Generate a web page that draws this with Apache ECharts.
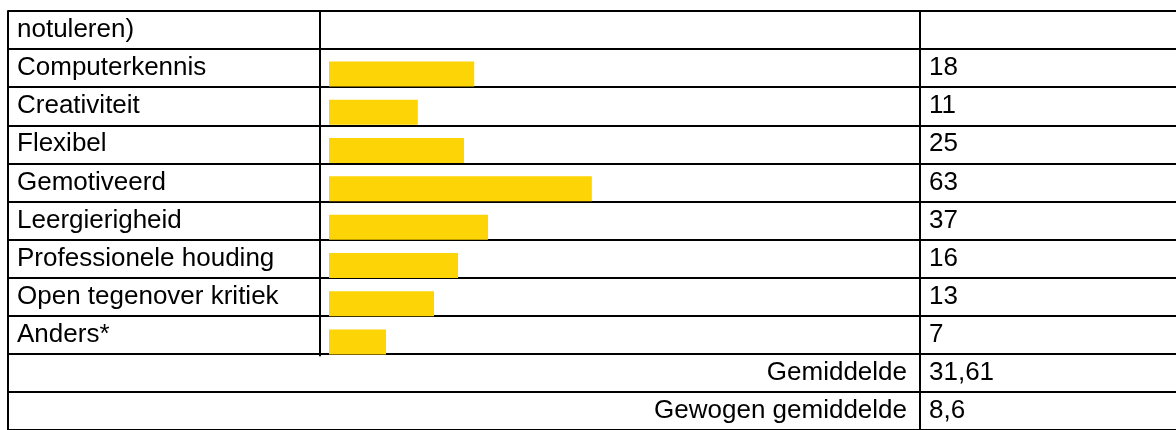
<!DOCTYPE html>
<html>
<head>
<meta charset="utf-8">
<title>Competenties</title>
<script src="https://cdn.jsdelivr.net/npm/echarts@6/dist/echarts.min.js"></script>
<style>
  html, body { margin: 0; padding: 0; background: #fff; }
  #chart { width: 1176px; height: 430px; }
</style>
</head>
<body>
<div id="chart"></div>
<script>
// rijen van de tabel
const firstRow = "notuleren)";
const categories = [
  "Computerkennis", "Creativiteit", "Flexibel", "Gemotiveerd",
  "Leergierigheid", "Professionele houding", "Open tegenover kritiek", "Anders*"
];
// lengte van de gele balken (geschat uit de afbeelding)
const barValues = [24.2, 14.8, 22.5, 43.8, 26.5, 21.5, 17.5, 9.5];
// getallen in de rechterkolom
const counts = [18, 11, 25, 63, 37, 16, 13, 7];
const summaryLabels = ["Gemiddelde", "Gewogen gemiddelde"];
const summaryValues = [31.61, 8.6];

const barColor = "#fdd405";
const font = { fontFamily: "'Liberation Sans', Arial, sans-serif", fontSize: 26, color: "#000" };
const fmt = v => String(v).replace(".", ",");

// alle rijen: 1 + 8 + 2
const rowLabels = [firstRow].concat(categories, summaryLabels.map(() => ""));
const numberLabels = [""].concat(counts.map(fmt), summaryValues.map(fmt));
const summaryCol = [firstRow].concat(categories).map(() => "").concat(summaryLabels);
const barRows = [firstRow].concat(categories);

const rowH = 421 / rowLabels.length;
const lineStyle = { color: "#000", width: 2 };

const myChart = echarts.init(document.getElementById("chart"));
myChart.setOption({
  animation: false,
  grid: [
    { left: 8, right: 0, top: 11, height: 421 },
    { left: 320, width: 600, top: 11, height: rowH * barRows.length }
  ],
  xAxis: [
    { gridIndex: 0, type: "value", show: false },
    { gridIndex: 1, type: "value", min: -1.5, max: 98.5, show: false }
  ],
  yAxis: [
    {
      gridIndex: 0, type: "category", inverse: true, data: rowLabels,
      axisLine: { show: true, onZero: false, lineStyle: lineStyle },
      axisTick: { show: false },
      splitLine: { show: true, lineStyle: lineStyle },
      axisLabel: Object.assign({ inside: true, margin: 9, interval: 0 }, font)
    },
    {
      gridIndex: 0, type: "category", inverse: true, data: numberLabels,
      position: "left", offset: -912,
      axisLine: { show: true, onZero: false, lineStyle: lineStyle },
      axisTick: { show: false },
      splitLine: { show: false },
      axisLabel: Object.assign({ inside: true, margin: 9, interval: 0 }, font)
    },
    {
      gridIndex: 0, type: "category", inverse: true, data: summaryCol,
      position: "left", offset: -912,
      axisLine: { show: false },
      axisTick: { show: false },
      splitLine: { show: false },
      axisLabel: Object.assign({ inside: false, margin: 13, interval: 0 }, font)
    },
    {
      gridIndex: 1, type: "category", inverse: true, data: barRows,
      axisLine: { show: true, onZero: false, lineStyle: lineStyle },
      axisTick: { show: false },
      axisLabel: { show: false },
      splitLine: { show: false }
    }
  ],
  series: [
    {
      type: "custom",
      xAxisIndex: 1,
      yAxisIndex: 3,
      encode: { x: 1, y: 0 },
      data: barValues.map((v, i) => [i + 1, v]),
      renderItem: function (params, api) {
        const row = api.value(0);
        const start = api.coord([0, row]);
        const end = api.coord([api.value(1), row]);
        const band = api.size([0, 1])[1];
        const h = 25;
        return {
          type: "rect",
          shape: { x: start[0], y: start[1] + band / 2 - 1 - h, width: end[0] - start[0], height: h },
          style: { fill: barColor }
        };
      }
    }
  ]
});
</script>
</body>
</html>
